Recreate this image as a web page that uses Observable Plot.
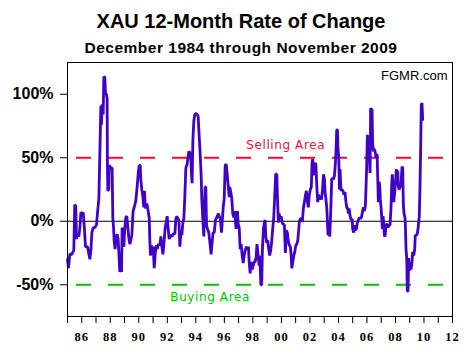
<!DOCTYPE html>
<html><head><meta charset="utf-8">
<script src="https://cdn.jsdelivr.net/npm/d3@7"></script>
<script src="https://cdn.jsdelivr.net/npm/@observablehq/plot@0.6"></script>
<style>
body{margin:0;background:#fff;}
#wrap{position:relative;width:473px;height:354px;overflow:hidden;font-family:"Liberation Sans",Arial,sans-serif;background:#fff;}
.t{position:absolute;left:0;width:482px;text-align:center;font-weight:bold;color:#000;white-space:nowrap;}
#title{top:11px;font-size:20px;line-height:20px;}
#sub{top:40px;font-size:15.5px;line-height:15.5px;letter-spacing:0.5px;}
#chart{position:absolute;left:0;top:0;}
</style></head><body>
<div id="wrap"><div id="chart"></div><div class="t" id="title">XAU 12-Month Rate of Change</div><div class="t" id="sub">December 1984 through November 2009</div></div>
<script>
// decimal year of each reading
const dates = [
1985.00,1985.07,1985.16,1985.30,1985.44,1985.51,1985.58,1985.63,1985.70,1985.79,1985.86,1985.94,
1986.03,1986.10,1986.17,1986.26,1986.40,1986.50,1986.57,1986.64,1986.71,1986.80,1986.92,
1987.03,1987.10,1987.20,1987.27,1987.34,1987.38,1987.43,1987.50,1987.55,1987.62,1987.66,1987.73,1987.78,1987.80,1987.83,1987.90,1987.92,
1988.04,1988.13,1988.18,1988.23,1988.27,1988.34,1988.39,1988.48,1988.55,1988.60,1988.67,1988.74,1988.79,1988.83,1988.90,1988.95,
1989.02,1989.09,1989.16,1989.23,1989.30,1989.37,1989.44,1989.51,1989.60,1989.70,1989.79,1989.89,1989.96,
1990.03,1990.10,1990.14,1990.21,1990.28,1990.35,1990.40,1990.45,1990.49,1990.56,1990.63,1990.68,1990.73,1990.77,1990.82,1990.89,1990.96,
1991.01,1991.08,1991.15,1991.22,1991.29,1991.38,1991.47,1991.55,1991.62,1991.69,1991.76,1991.85,1991.92,1991.99,
1992.06,1992.13,1992.22,1992.32,1992.41,1992.53,1992.60,1992.67,1992.74,1992.81,1992.88,1992.95,
1993.02,1993.09,1993.16,1993.23,1993.30,1993.39,1993.51,1993.58,1993.65,1993.70,1993.74,1993.79,1993.86,1993.93,
1994.02,1994.09,1994.16,1994.23,1994.30,1994.37,1994.42,1994.49,1994.56,1994.61,1994.65,1994.70,1994.75,1994.82,1994.91,
1995.00,1995.07,1995.14,1995.21,1995.29,1995.38,1995.47,1995.57,1995.64,1995.71,1995.75,1995.80,1995.87,1995.92,1995.99,
1996.06,1996.13,1996.20,1996.27,1996.34,1996.38,1996.45,1996.52,1996.59,1996.66,1996.73,1996.78,1996.83,1996.87,1996.92,1996.97,
1997.04,1997.11,1997.18,1997.25,1997.32,1997.39,1997.46,1997.55,1997.62,1997.69,1997.74,1997.81,1997.88,1997.95,
1998.02,1998.09,1998.16,1998.23,1998.29,1998.37,1998.44,1998.49,1998.56,
1998.62,1998.67,1998.74,1998.81,1998.86,1998.90,1998.97,
1999.04,1999.11,1999.18,1999.25,1999.32,1999.39,1999.46,1999.53,1999.60,1999.68,1999.72,1999.79,1999.84,1999.91,1999.98,
2000.07,2000.14,2000.21,2000.28,2000.35,2000.42,2000.49,2000.56,2000.63,2000.68,2000.73,2000.80,2000.87,2000.94,
2001.01,2001.08,2001.15,2001.22,2001.26,2001.33,2001.40,2001.47,2001.54,2001.61,2001.68,2001.75,2001.82,2001.89,2001.96,
2002.03,2002.10,2002.15,2002.20,2002.25,2002.29,2002.36,2002.41,2002.46,2002.50,2002.55,2002.60,2002.67,2002.74,2002.81,2002.88,2002.95,
2003.02,2003.06,2003.11,2003.18,2003.23,2003.27,2003.34,2003.39,2003.44,2003.48,2003.53,2003.58,2003.65,2003.72,2003.79,2003.83,2003.88,2003.93,2003.97,
2004.02,2004.07,2004.11,2004.18,2004.25,2004.32,2004.39,2004.46,2004.53,2004.58,2004.65,2004.70,2004.75,2004.82,2004.89,2004.96,
2005.00,2005.07,2005.14,2005.19,2005.26,2005.33,2005.40,2005.47,2005.54,2005.61,2005.68,2005.75,2005.82,2005.89,2005.94,2005.98,
2006.03,2006.08,2006.12,2006.17,2006.22,2006.26,2006.31,2006.36,2006.40,2006.45,2006.50,2006.57,2006.64,2006.71,2006.75,2006.80,2006.85,2006.89,2006.94,2006.99,
2007.03,2007.08,2007.13,2007.17,2007.22,2007.27,2007.34,2007.41,2007.48,2007.55,2007.62,2007.69,2007.74,2007.78,2007.83,2007.88,2007.92,2007.99,
2008.06,2008.11,2008.16,2008.20,2008.25,2008.32,2008.39,2008.46,2008.51,2008.55,2008.60,2008.65,2008.69,2008.74,2008.79,2008.83,2008.88,2008.93,2008.97,
2009.02,2009.09,2009.16,2009.21,2009.28,2009.35,2009.39,2009.46,2009.53,2009.58,2009.63,2009.67,2009.72,2009.77,2009.81,2009.86,2009.91
];
// 12-month rate of change, percent
const roc = [
-30,-37,-26,-26,-23,13,12,-14,-9,-12,-6,7,
6,7,-3,-20,-20,-26,-30,-23,-9,-5,-5,
-3,6,18,54,91,76,92,84,114,113,101,100,96,44,24,25,44,
42,42,2,-5,-15,-22,-15,-10,-14,-24,-40,-30,-40,-5,-18,-20,
-5,3,4,-5,-13,-18,-15,-11,8,12,16,28,38,
44,44,33,25,20,11,24,12,10,14,10,6,3,-14,-27,-19,-26,
-20,-37,-26,-19,-22,-18,-19,-12,-20,-26,-18,-5,-1,4,
-6,-14,-11,-12,-10,-10,2,4,2,1,-20,-10,
-11,-1,2,20,42,45,55,54,49,36,30,63,79,84,
85,84,83,68,54,37,17,2,-12,12,27,27,-3,-6,-9,
-18,-26,-17,-9,-9,1,3,6,4,2,-2,-9,3,11,18,
44,45,37,28,19,27,23,18,6,3,8,-1,-6,6,8,-2,
-5,-22,-18,-27,-33,-27,-23,-20,-22,-20,-32,-41,-32,-38,
-35,-32,-32,-28,-18,-27,-35,-27,-50,
-50,-22,-6,-1,1,-11,-17,
-15,-22,-27,-23,-16,-6,2,19,37,37,20,-1,6,2,4,
-2,-2,-3,-25,-7,-9,-16,-19,-20,-26,-37,-32,-27,-24,
-19,-18,-15,-6,0,2,2,0,10,15,20,24,16,11,21,
25,27,46,49,36,46,43,46,34,24,15,21,17,20,17,24,37,
33,23,19,11,-1,-11,-9,-12,2,15,33,34,33,36,46,55,72,72,57,
51,25,41,24,25,24,21,23,15,11,10,6,10,4,1,2,
-6,-9,-3,-7,-6,-1,1,3,2,3,7,11,8,12,28,43,
68,59,64,50,38,89,88,88,62,55,57,55,50,53,37,15,31,29,17,11,
4,-6,4,-1,-11,-12,-3,-2,-5,-3,-3,11,30,37,28,15,20,28,
41,36,40,28,25,27,29,43,42,14,6,4,0,-22,-29,-55,-55,-29,-39,
-32,-38,-32,-24,-27,-22,-11,-11,-10,-6,-1,4,27,59,92,93,80
];
const yTicks = [-50, 0, 50, 100];
const xTickYears = d3.range(1985, 2013);
const xLabelYears = d3.range(1986, 2013, 2);
const sellLevel = 50, buyLevel = -50;
const zoneText = ["Selling Area", "Buying Area"];
const zoneYear = [2000.3, 1995.0];
const zoneValue = [56.5, -63];
const credit = "FGMR.com";

const LINE = "#4000c8", RED = "#dc143c", GREEN = "#00c400";
const data = dates.map((d, i) => ({year: d, roc: roc[i]}));
const zones = zoneText.map((t, i) => ({t, x: zoneYear[i], y: zoneValue[i], c: i === 0 ? RED : GREEN}));

const chart = Plot.plot({
  width: 473, height: 354,
  marginLeft: 67, marginRight: 21, marginTop: 62, marginBottom: 38,
  style: {background: "white", color: "black", fontFamily: "Liberation Sans, Arial, sans-serif", overflow: "visible"},
  x: {domain: [1985, 2012], axis: null, label: null},
  y: {domain: [-75, 125], axis: null, label: null},
  marks: [
    Plot.ruleY([0], {stroke: "black", strokeWidth: 1}),
    Plot.ruleY([sellLevel], {stroke: RED, strokeWidth: 2, strokeDasharray: "15,17", strokeDashoffset: 23}),
    Plot.ruleY([buyLevel], {stroke: GREEN, strokeWidth: 2, strokeDasharray: "15,17", strokeDashoffset: 23}),
    Plot.line(data, {x: "year", y: "roc", stroke: LINE, strokeWidth: 2.8, strokeLinejoin: "miter"}),
    Plot.text(zones, {x: "x", y: "y", text: "t", fill: "c", fontFamily: "DejaVu Sans, Verdana, sans-serif", fontSize: 12, lineAnchor: "bottom", textAnchor: "middle"}),
    Plot.text([credit], {text: d => d, frameAnchor: "top-right", dx: -5, dy: 17, lineAnchor: "bottom", textAnchor: "end", fontSize: 13, fill: "black"}),
    Plot.frame({stroke: "black", strokeWidth: 1}),
    Plot.axisY({ticks: yTicks, tickFormat: d => d + "%", tickSize: 7, tickPadding: 7, fontSize: 16, fontWeight: "bold", label: null}),
    Plot.axisX({ticks: xTickYears, tickFormat: () => "", tickSize: 7, label: null}),
    Plot.axisX({ticks: xLabelYears, tickFormat: d => String(d % 100).padStart(2, "0"), tickSize: 0, tickPadding: 16, fontSize: 12.5, fontWeight: "bold", fontFamily: "Liberation Serif, Times New Roman, serif", label: null})
  ]
});
document.getElementById("chart").appendChild(chart);
d3.select(chart).selectAll("text").each(function() {
  const t = this.textContent;
  if (zoneText.includes(t)) this.style.letterSpacing = "0.6px";
  if (/^\d\d$/.test(t)) this.style.letterSpacing = "1px";
});
</script>
</body></html>
